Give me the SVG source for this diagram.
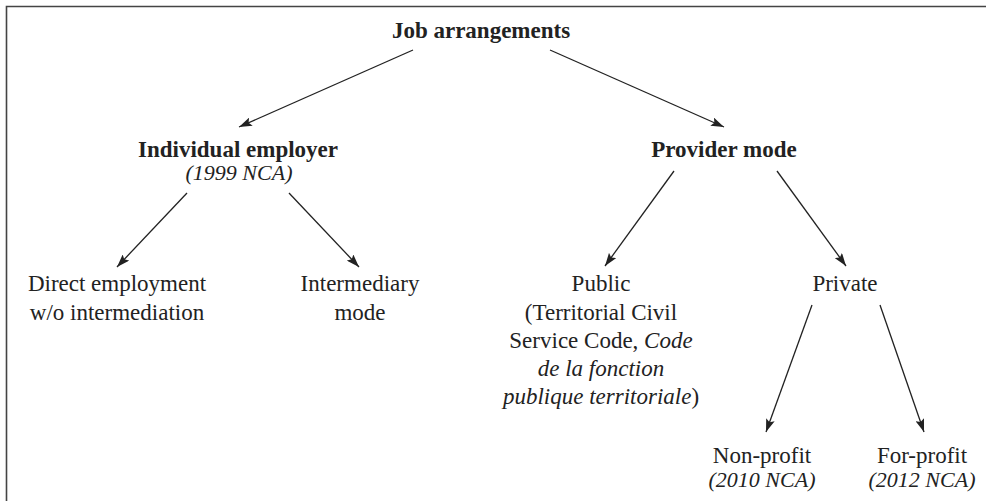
<svg xmlns="http://www.w3.org/2000/svg" width="986" height="501" viewBox="0 0 986 501">
<defs>
<marker id="ah" viewBox="0 0 13 9" refX="13" refY="4.5" markerWidth="13" markerHeight="9" markerUnits="userSpaceOnUse" orient="auto">
<path d="M0,0 L13,4.5 L0,9 L2.5,4.5 Z" fill="#222"/>
</marker>
</defs>
<style>
text{font-family:"Liberation Serif","Times New Roman",serif;fill:#222;text-anchor:middle;font-size:23px}
.b{font-weight:bold}
.i{font-style:italic;font-size:22px}
.c line{stroke:#222;stroke-width:1.3;marker-end:url(#ah)}
</style>
<rect width="986" height="501" fill="#fff"/>
<path d="M6.5,501 V6.5 H986" fill="none" stroke="#444" stroke-width="1.6"/>
<g id="n-job"><text class="b" x="481" y="38">Job arrangements</text></g>
<g id="n-ind"><text class="b" x="238" y="157">Individual employer</text><text class="i" x="239" y="180">(1999 NCA)</text></g>
<g id="n-prov"><text class="b" x="724" y="157">Provider mode</text></g>
<g id="n-direct"><text x="117" y="291">Direct employment</text><text x="117" y="320">w/o intermediation</text></g>
<g id="n-inter"><text x="360" y="291">Intermediary</text><text x="360" y="320">mode</text></g>
<g id="n-public"><text x="601" y="291">Public</text><text x="601" y="320">(Territorial Civil</text><text x="601" y="348">Service Code, <tspan font-style="italic">Code</tspan></text><text x="601" y="376" font-style="italic">de la fonction</text><text x="601" y="404"><tspan font-style="italic">publique territoriale</tspan>)</text></g>
<g id="n-private"><text x="845" y="291">Private</text></g>
<g id="n-nonprofit"><text x="762" y="463">Non-profit</text><text class="i" x="762" y="487">(2010 NCA)</text></g>
<g id="n-forprofit"><text x="922" y="463">For-profit</text><text class="i" x="922" y="487">(2012 NCA)</text></g>
<g id="connectors" class="c">
<line x1="413" y1="50" x2="239" y2="127"/>
<line x1="550" y1="50" x2="724" y2="127"/>
<line x1="187" y1="193" x2="117" y2="267"/>
<line x1="289" y1="193" x2="359" y2="267"/>
<line x1="674" y1="171" x2="605" y2="266"/>
<line x1="777" y1="171" x2="846" y2="266"/>
<line x1="812" y1="305" x2="766" y2="432"/>
<line x1="880" y1="305" x2="924" y2="432"/>
</g>
</svg>
